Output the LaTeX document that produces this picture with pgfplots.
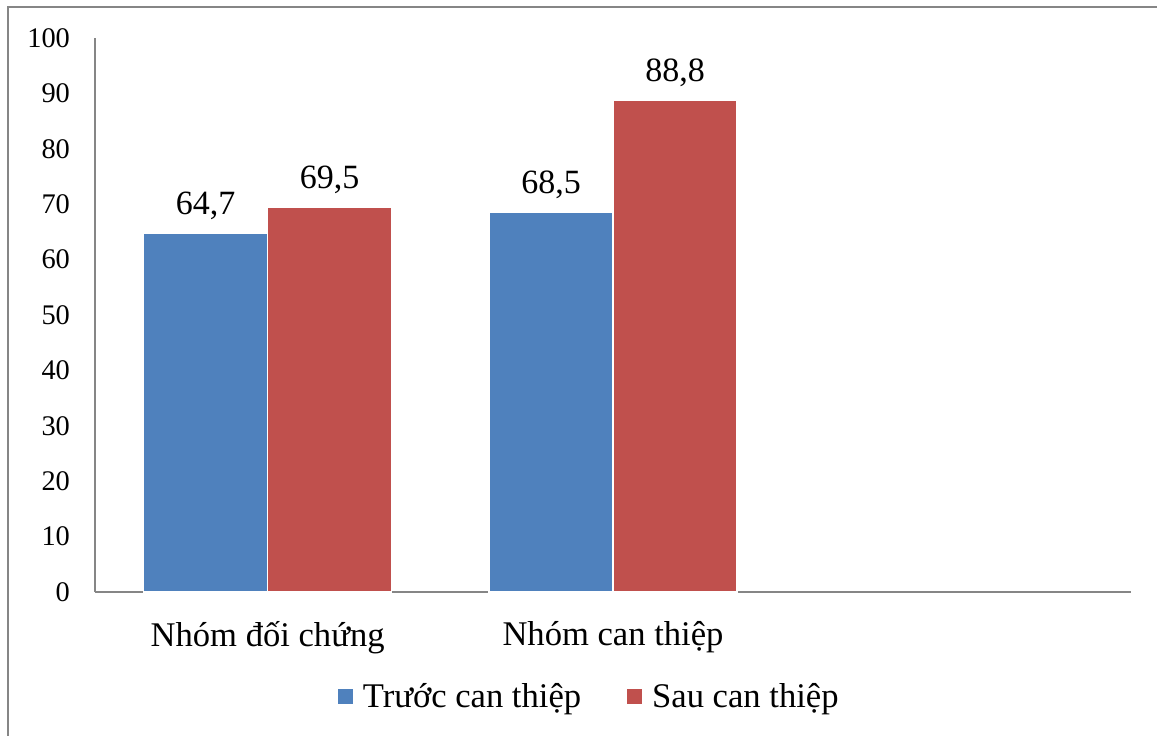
\documentclass[border=0pt]{standalone}
\usepackage{fontspec}
\setmainfont{Liberation Serif}
\usepackage{pgfplots}
\pgfplotsset{compat=1.18}
\definecolor{cblue}{HTML}{4F81BD}
\definecolor{cred}{HTML}{C0504D}
\definecolor{axgray}{HTML}{868686}
\begin{document}
\begin{tikzpicture}
\path[use as bounding box] (-47.5pt,-71.5pt) rectangle (531pt,296pt);
\draw[axgray, line width=0.9pt] (-43.5pt,-75pt) -- (-43.5pt,292.5pt) -- (535pt,292.5pt);
\begin{axis}[
  at={(0,0)}, anchor=south west,
  scale only axis, width=518pt, height=277pt,
  ybar=0pt, bar width=62pt,
  xmin=-0.5, xmax=2.5, ymin=0, ymax=100,
  ytick={0,10,...,100},
  xtick={0,1,2},
  xticklabels={Nhóm đối chứng, Nhóm can thiệp, {}},
  axis x line*=bottom, axis y line*=left,
  axis line style={-, draw=axgray, line width=1pt},
  major tick length=0pt,
  /pgf/number format/assume math mode=true,
  yticklabel style={font=\fontsize{14.2}{14.2}\selectfont, xshift=-9pt},
  xticklabel style={font=\fontsize{17.3}{17.3}\selectfont, yshift=-11pt},
  nodes near coords,
  nodes near coords style={font=\fontsize{17}{17}\selectfont, yshift=3pt, /pgf/number format/.cd, use comma, fixed, fixed zerofill, precision=1},
  every axis plot/.append style={draw=white, line width=0.8pt},
  legend style={at={(0.478,-0.19)}, anchor=center, draw=none, legend columns=2,
    font=\fontsize{17.3}{17.3}\selectfont,
    /tikz/every odd column/.append style={column sep=3pt},
    /tikz/every even column/.append style={column sep=21pt}},
  legend image code/.code={\fill[#1, draw=none] (0pt,-3.2pt) rectangle (7.5pt,4.3pt);},
]
\addplot[fill=cblue] coordinates {(0,64.7) (1,68.5)};
\addplot[fill=cred] coordinates {(0,69.5) (1,88.8)};
\legend{Trước can thiệp, Sau can thiệp}
\end{axis}
\end{tikzpicture}
\end{document}
